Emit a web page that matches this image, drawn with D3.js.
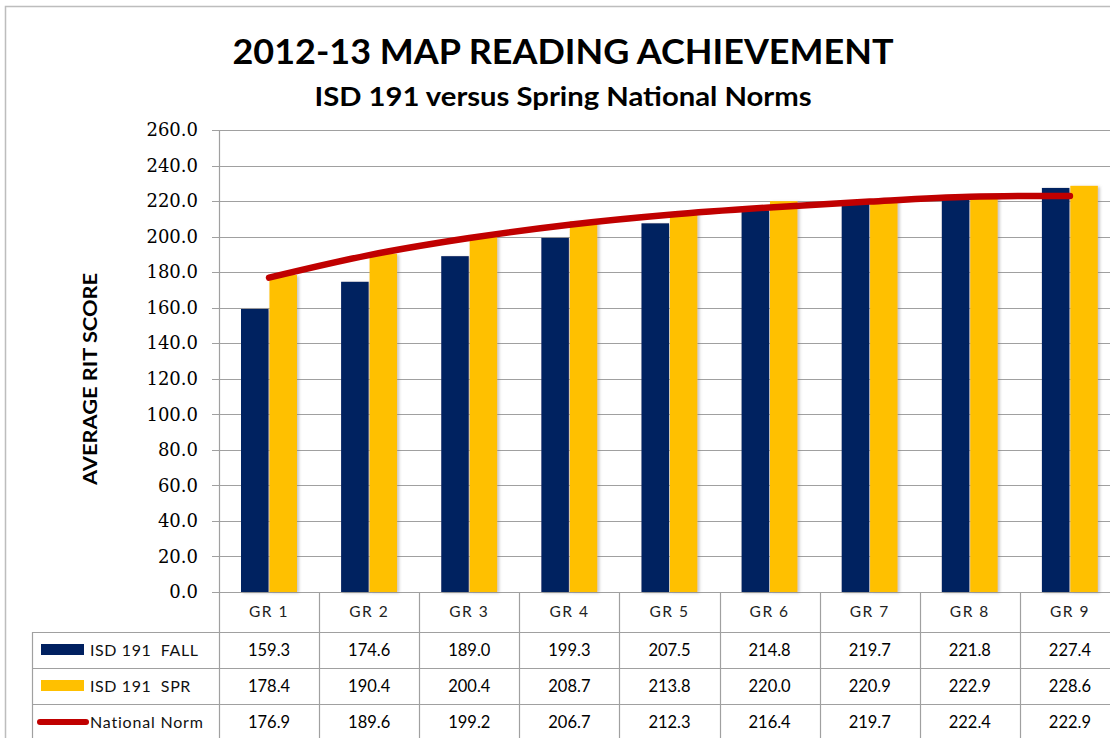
<!DOCTYPE html>
<html>
<head>
<meta charset="utf-8">
<script src="https://cdn.jsdelivr.net/npm/d3@7"></script>
<style>
  body { margin: 0; background: #fff; }
  svg { display: block; }
  .keep { white-space: pre; }
</style>
</head>
<body>
<svg width="1110" height="738"></svg>
<script>
// data
var grades = ["GR 1", "GR 2", "GR 3", "GR 4", "GR 5", "GR 6", "GR 7", "GR 8", "GR 9"];
var fall = [159.3, 174.6, 189.0, 199.3, 207.5, 214.8, 219.7, 221.8, 227.4];
var spring = [178.4, 190.4, 200.4, 208.7, 213.8, 220.0, 220.9, 222.9, 228.6];
var norm = [176.9, 189.6, 199.2, 206.7, 212.3, 216.4, 219.7, 222.4, 222.9];
var seriesNames = ["ISD 191  FALL", "ISD 191  SPR", "National Norm"];
var yTicks = [0, 20, 40, 60, 80, 100, 120, 140, 160, 180, 200, 220, 240, 260];

var navy = "#002060", gold = "#FFC000", red = "#C00000", grid = "#A0A0A0";

var svg = d3.select("svg");

// outer chart border (runs off the right/bottom like the original)
svg.append("rect")
    .attr("x", 5.5).attr("y", 6.5)
    .attr("width", 1200).attr("height", 800)
    .attr("fill", "none").attr("stroke", "#BDBDBD").attr("stroke-width", 1.5);

var plotLeft = 219, plotRight = 1120, plotTop = 130, plotBottom = 592;

var x = d3.scaleBand().domain(grades).range([plotLeft, plotRight]);
var x1 = d3.scaleBand().domain(["fall", "spr"]).range([22, 78]).paddingInner(0.03);
var y = d3.scaleLinear().domain([0, 260]).range([plotBottom, plotTop]);

var defs = svg.append("defs");
var f = defs.append("filter").attr("id", "shadow")
    .attr("x", "-20%").attr("y", "-5%").attr("width", "150%").attr("height", "110%");
f.append("feDropShadow").attr("dx", 2).attr("dy", 1).attr("stdDeviation", 1.5)
    .attr("flood-color", "#808080").attr("flood-opacity", 0.45);

// gridlines
svg.append("g").selectAll("line")
    .data(yTicks)
    .enter().append("line")
    .attr("x1", plotLeft - 7).attr("x2", plotRight)
    .attr("y1", function (d) { return Math.round(y(d)) + 0.5; })
    .attr("y2", function (d) { return Math.round(y(d)) + 0.5; })
    .attr("stroke", grid).attr("stroke-width", 1.2);

// y axis labels
var yAxis = svg.append("g")
    .attr("transform", "translate(" + plotLeft + ",0)")
    .call(d3.axisLeft(y).tickValues(yTicks).tickFormat(d3.format(".1f")).tickSize(0).tickPadding(21));
yAxis.select(".domain").remove();
yAxis.attr("font-family", "DejaVu Serif").attr("font-size", 18);
yAxis.selectAll("text")
    .style("font-family", "'DejaVu Serif', 'Liberation Serif', serif")
    .style("font-size", "18px")
    .attr("fill", "#000");

// bars
var groups = svg.append("g").selectAll("g")
    .data(grades)
    .enter().append("g")
    .attr("transform", function (d) { return "translate(" + x(d) + ",0)"; });

groups.append("rect")
    .attr("x", x1("fall"))
    .attr("y", function (d, i) { return y(fall[i]); })
    .attr("width", x1.bandwidth())
    .attr("height", function (d, i) { return y(0) - y(fall[i]); })
    .attr("fill", navy)
    .attr("filter", "url(#shadow)");

groups.append("rect")
    .attr("x", x1("spr"))
    .attr("y", function (d, i) { return y(spring[i]); })
    .attr("width", x1.bandwidth())
    .attr("height", function (d, i) { return y(0) - y(spring[i]); })
    .attr("fill", gold)
    .attr("filter", "url(#shadow)");

// national norm line
var line = d3.line()
    .x(function (d, i) { return x(grades[i]) + x.bandwidth() / 2; })
    .y(function (d) { return y(d); })
    .curve(d3.curveCatmullRom.alpha(0.5));

svg.append("path")
    .datum(norm)
    .attr("d", line)
    .attr("fill", "none")
    .attr("stroke", red)
    .attr("stroke-width", 6.5)
    .attr("stroke-linecap", "round");

// data table
var rowY = [592, 632, 668, 704, 740];
var tableLeft = 32;
var tg = svg.append("g").attr("stroke", grid).attr("stroke-width", 1.2);

// axis line running into the table
tg.append("line")
    .attr("x1", plotLeft + 0.5).attr("x2", plotLeft + 0.5)
    .attr("y1", plotTop).attr("y2", 740);

tg.selectAll(".vline")
    .data(grades)
    .enter().append("line")
    .attr("class", "vline")
    .attr("x1", function (d) { return Math.round(x(d) + x.bandwidth()) + 0.5; })
    .attr("x2", function (d) { return Math.round(x(d) + x.bandwidth()) + 0.5; })
    .attr("y1", plotBottom).attr("y2", 740);

tg.append("line")
    .attr("x1", tableLeft + 0.5).attr("x2", tableLeft + 0.5)
    .attr("y1", rowY[1]).attr("y2", 740);

tg.selectAll(".hline")
    .data(rowY.slice(1))
    .enter().append("line")
    .attr("class", "hline")
    .attr("x1", tableLeft).attr("x2", plotRight)
    .attr("y1", function (d) { return d + 0.5; })
    .attr("y2", function (d) { return d + 0.5; });

// header row
svg.append("g").selectAll("text")
    .data(grades)
    .enter().append("text")
    .attr("x", function (d) { return x(d) + x.bandwidth() / 2; })
    .attr("y", 612)
    .attr("dy", "0.35em")
    .attr("text-anchor", "middle")
    .attr("font-family", "Lato")
    .attr("font-size", 15.5)
    .attr("letter-spacing", 1.5)
    .attr("fill", "#222")
    .text(function (d) { return d; });

var rows = [fall, spring, norm];
rows.forEach(function (vals, r) {
    var cy = (rowY[r + 1] + rowY[r + 2]) / 2;
    svg.append("g").selectAll("text")
        .data(vals)
        .enter().append("text")
        .attr("x", function (d, i) { return x(grades[i]) + x.bandwidth() / 2; })
        .attr("y", cy)
        .attr("dy", "0.35em")
        .attr("text-anchor", "middle")
        .attr("font-family", "Lato")
        .attr("font-size", 16.5)
        .attr("fill", "#000")
        .text(function (d) { return d.toFixed(1); });

    // legend key in the first column
    if (r < 2) {
        svg.append("rect")
            .attr("x", 41).attr("y", cy - 6)
            .attr("width", 43).attr("height", 11)
            .attr("fill", r === 0 ? navy : gold);
    } else {
        svg.append("line")
            .attr("x1", 40).attr("x2", 86)
            .attr("y1", cy).attr("y2", cy)
            .attr("stroke", red).attr("stroke-width", 6)
            .attr("stroke-linecap", "round");
    }
    svg.append("text")
        .attr("class", "keep")
        .attr("x", 90).attr("y", cy)
        .attr("dy", "0.35em")
        .attr("font-family", "Lato")
        .attr("font-size", 16)
        .attr("letter-spacing", r === 2 ? 0.8 : 0.6)
        .attr("fill", "#111")
        .text(seriesNames[r]);
});

// titles
svg.append("text")
    .attr("x", 563).attr("y", 64)
    .attr("text-anchor", "middle")
    .attr("font-family", "Lato").attr("font-weight", "bold")
    .attr("font-size", 35)
    .attr("textLength", 661).attr("lengthAdjust", "spacingAndGlyphs")
    .attr("fill", "#000")
    .text("2012-13 MAP READING ACHIEVEMENT");

svg.append("text")
    .attr("x", 563).attr("y", 106)
    .attr("text-anchor", "middle")
    .attr("font-family", "Lato").attr("font-weight", "bold")
    .attr("font-size", 26)
    .attr("textLength", 497).attr("lengthAdjust", "spacingAndGlyphs")
    .attr("fill", "#000")
    .text("ISD 191 versus Spring National Norms");

svg.append("text")
    .attr("transform", "translate(97,379) rotate(-90)")
    .attr("text-anchor", "middle")
    .attr("font-family", "Lato").attr("font-weight", "bold")
    .attr("font-size", 18)
    .attr("textLength", 212).attr("lengthAdjust", "spacingAndGlyphs")
    .attr("fill", "#000")
    .text("AVERAGE RIT SCORE");
</script>
</body>
</html>
